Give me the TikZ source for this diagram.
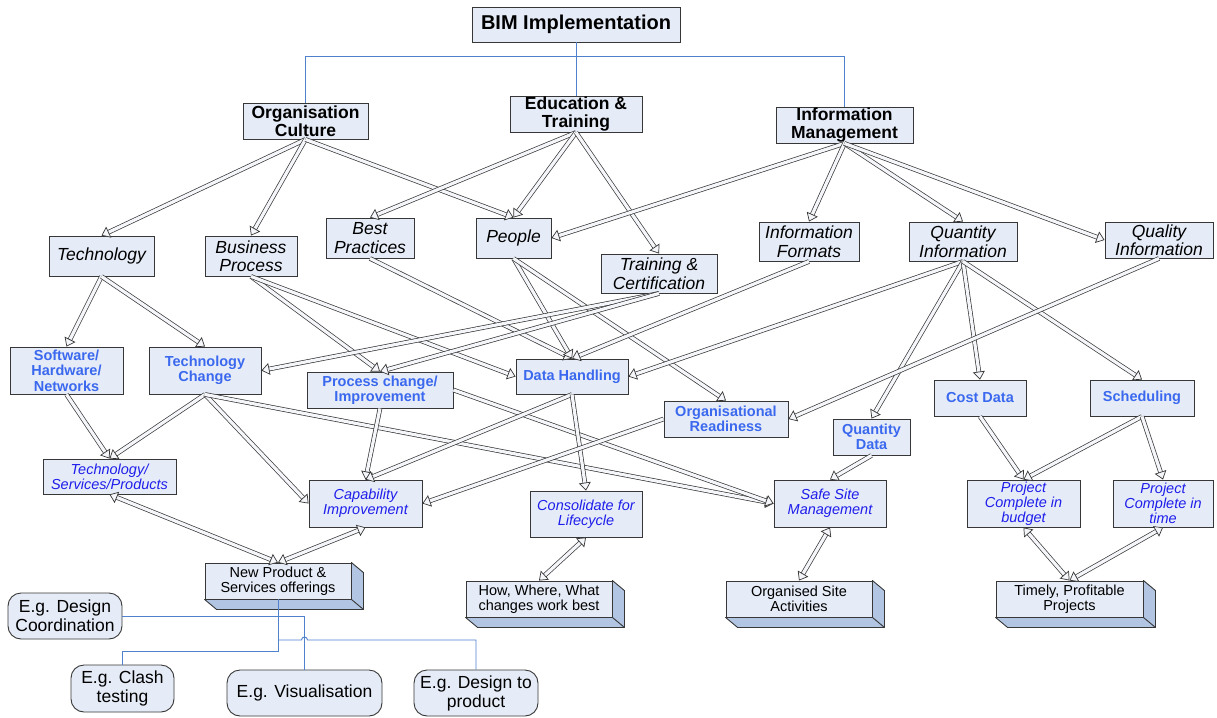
\documentclass[tikz,border=0pt]{standalone}
\usepackage{fontspec}
\setmainfont{Liberation Sans}
\usetikzlibrary{arrows.meta,calc}
\definecolor{boxfill}{RGB}{230,236,247}
\definecolor{boxline}{RGB}{55,55,55}
\definecolor{sideface}{RGB}{178,198,228}
\definecolor{treeblue}{RGB}{79,129,205}
\definecolor{bluethree}{RGB}{58,104,238}
\definecolor{bluefour}{RGB}{30,30,235}
\definecolor{shaftfill}{RGB}{244,246,250}
\tikzset{
 box/.style={draw=boxline, line width=0.9pt, fill=boxfill, inner sep=0pt, align=center},
 lvlone/.style={box, font=\fontsize{17.5}{18.5}\selectfont\bfseries},
 lvltwo/.style={box, font=\fontsize{17.5}{18.5}\selectfont\itshape},
 lvlthree/.style={box, text=bluethree, font=\fontsize{14.5}{15.5}\selectfont\bfseries},
 lvlfour/.style={box, text=bluefour, font=\fontsize{14.5}{15}\selectfont\itshape},
 solidbox/.style={box, font=\fontsize{14.5}{15.5}\selectfont},
 roundbox/.style={box, rounded corners=13pt, font=\fontsize{17.5}{19}\selectfont},
 sz/.style 2 args={minimum width=#1pt, minimum height=#2pt},
 tree/.style={draw=treeblue, line width=0.9pt},
 shaft/.style={draw=boxline, line width=0.7pt, double=shaftfill, double distance=3.2pt},
 headst/.style={draw=boxline, line width=0.7pt, -{Triangle[length=8pt,width=12pt,fill=shaftfill]}},
}
\newcommand{\blockarrow}[2]{%
  \draw[shaft, shorten >=6pt] (#1) -- (#2);
  \draw[headst] ($(#2)!8pt!(#1)$) -- (#2);}
\newcommand{\blockdarrow}[2]{%
  \draw[shaft, shorten >=6pt, shorten <=6pt] (#1) -- (#2);
  \draw[headst] ($(#2)!8pt!(#1)$) -- (#2);
  \draw[headst] ($(#1)!8pt!(#2)$) -- (#1);}
\newcommand{\extrude}[1]{%
  \filldraw[fill=sideface, draw=boxline, line width=0.9pt, line join=round]
    (#1.north east) -- ++(12,10) -- ($(#1.south east)+(12,10)$) -- ($(#1.south west)+(12,10)$)
    -- (#1.south west) -- (#1.south east) -- cycle;
  \draw[boxline, line width=0.9pt] (#1.south east) -- ++(12,10);}
\begin{document}
\begin{tikzpicture}[x=1pt,y=-1pt]
\useasboundingbox[fill=white] (0,0) rectangle (1217,717);

% level 0/1
\node[lvlone, sz={208}{35}, font=\fontsize{20}{22}\selectfont\bfseries] (bim) at (576,24.5) {BIM Implementation};
\node[lvlone, sz={125}{36}] (orgc) at (305.5,121) {Organisation\\Culture};
\node[lvlone, sz={132}{36}] (edut) at (576,114) {Education \&\\Training};
\node[lvlone, sz={137}{36}] (infom) at (844.5,125) {Information\\Management};

% level 2
\node[lvltwo, sz={105}{40}] (tech) at (101.5,256) {Technology};
\node[lvltwo, sz={92}{40}] (busp) at (251,256) {Business\\Process};
\node[lvltwo, sz={88}{40}] (bestp) at (370,238) {Best\\Practices};
\node[lvltwo, sz={75}{40}] (people) at (513.5,238) {People};
\node[lvltwo, sz={116}{39}] (trainc) at (659,273.5) {Training \&\\Certification};
\node[lvltwo, sz={100}{39}] (infof) at (809,241.5) {Information\\Formats};
\node[lvltwo, sz={108}{39}] (qtyi) at (963,241.5) {Quantity\\Information};
\node[lvltwo, sz={108}{36}] (quali) at (1159,240) {Quality\\Information};

% level 3
\node[lvlthree, sz={113}{47}] (shn) at (66.5,370.5) {Software/\\Hardware/\\Networks};
\node[lvlthree, sz={112}{47}] (techch) at (205,370.5) {Technology\\Change};
\node[lvlthree, sz={146}{36}] (procch) at (380,390) {Process change/\\Improvement};
\node[lvlthree, sz={112}{35}] (datah) at (572,376.5) {Data Handling};
\node[lvlthree, sz={124}{36}] (orgr) at (726,419) {Organisational\\Readiness};
\node[lvlthree, sz={77}{36}] (qtyd) at (871.5,437) {Quantity\\Data};
\node[lvlthree, sz={92}{36}] (costd) at (980,398) {Cost Data};
\node[lvlthree, sz={104}{36}] (sched) at (1142,398) {Scheduling};

% level 4
\node[lvlfour, sz={133}{35}] (tsp) at (109.5,476.5) {Technology/\\Services/Products};
\node[lvlfour, sz={113}{47}] (capi) at (365.5,503.5) {Capability\\Improvement};
\node[lvlfour, sz={112}{46}] (consl) at (586,514) {Consolidate for\\Lifecycle};
\node[lvlfour, sz={112}{47}] (safes) at (830,503.5) {Safe Site\\Management};
\node[lvlfour, sz={113}{47}] (pcb) at (1023.5,503.5) {Project\\Complete in\\budget};
\node[lvlfour, sz={100}{47}] (pct) at (1163,503.5) {Project\\Complete in\\time};

% 3D outcome boxes
\node[solidbox, sz={146}{36}] (newp) at (278,581) {New Product \&\\Services offerings};
\node[solidbox, sz={146}{36}] (howw) at (539,599) {How, Where, What\\changes work best};
\node[solidbox, sz={146}{36}] (orgsa) at (799,599) {Organised Site\\Activities};
\node[solidbox, sz={147}{36}] (timely) at (1069.5,599) {Timely, Profitable\\Projects};
\extrude{newp}
\extrude{howw}
\extrude{orgsa}
\extrude{timely}

% rounded examples
\node[roundbox, sz={114}{46}] (egdc) at (65,616) {E.g. Design\\Coordination};
\node[roundbox, sz={103}{47}] (egct) at (122.5,688.5) {E.g. Clash\\testing};
\node[roundbox, sz={155}{46}] (egv) at (304.5,693) {E.g. Visualisation};
\node[roundbox, sz={124}{46}] (egdp) at (476,693) {E.g. Design to\\product};

% tree connectors
\coordinate (bar) at (576,56);
\draw[tree] (bim.south) -- (edut.north);
\draw[tree] (orgc.north) -- (orgc.north |- bar) -- (infom.north |- bar) -- (infom.north);
\coordinate (ja) at (0,651);
\coordinate (jb) at (0,640);
\draw[tree] (newp.south) -- (newp.south |- ja) -| (egct.north);
\draw[tree] (egdc.east) -| (egv.north);
\draw[tree] (newp.south |- jb) -- ($(egv.north |- jb)+(-3,0)$) arc[start angle=180,end angle=360,radius=3] -- (egdp.north |- jb) -- (egdp.north);

% block arrows
\blockarrow{orgc.south}{tech.north}
\blockarrow{orgc.south}{busp.north}
\blockarrow{orgc.south}{people.north}
\blockarrow{edut.south}{bestp.north}
\blockarrow{edut.south}{people.north}
\blockarrow{edut.south}{trainc.north}
\blockarrow{infom.south}{people.east}
\blockarrow{infom.south}{infof.north}
\blockarrow{infom.south}{qtyi.north}
\blockarrow{infom.south}{quali.west}
\blockarrow{tech.south}{shn.north}
\blockarrow{tech.south}{techch.north}
\blockarrow{busp.south}{procch.north}
\blockarrow{busp.south}{datah.west}
\blockarrow{bestp.south}{datah.north}
\blockarrow{people.south}{datah.north}
\blockarrow{people.south}{orgr.north}
\blockarrow{trainc.south}{techch.east}
\blockarrow{trainc.south}{procch.north}
\blockarrow{infof.south}{datah.north}
\blockarrow{qtyi.south}{datah.east}
\blockarrow{qtyi.south}{qtyd.north}
\blockarrow{qtyi.south}{costd.north}
\blockarrow{qtyi.south}{sched.north}
\blockarrow{quali.south}{orgr.east}
\blockarrow{shn.south}{tsp.north}
\blockarrow{techch.south}{tsp.north}
\blockarrow{techch.south}{capi.west}
\blockarrow{techch.south}{safes.west}
\blockarrow{procch.south}{capi.north}
\blockarrow{procch.east}{safes.west}
\blockarrow{datah.south}{capi.north}
\blockarrow{datah.south}{consl.north}
\blockarrow{orgr.west}{capi.east}
\blockarrow{qtyd.south}{safes.north}
\blockarrow{costd.south}{pcb.north}
\blockarrow{sched.south}{pcb.north}
\blockarrow{sched.south}{pct.north}
\blockdarrow{tsp.south}{newp.north}
\blockdarrow{capi.south}{newp.north}
\blockdarrow{consl.south}{howw.north}
\blockdarrow{safes.south}{orgsa.north}
\blockdarrow{pcb.south}{timely.north}
\blockdarrow{pct.south}{timely.north}
\end{tikzpicture}
\end{document}
